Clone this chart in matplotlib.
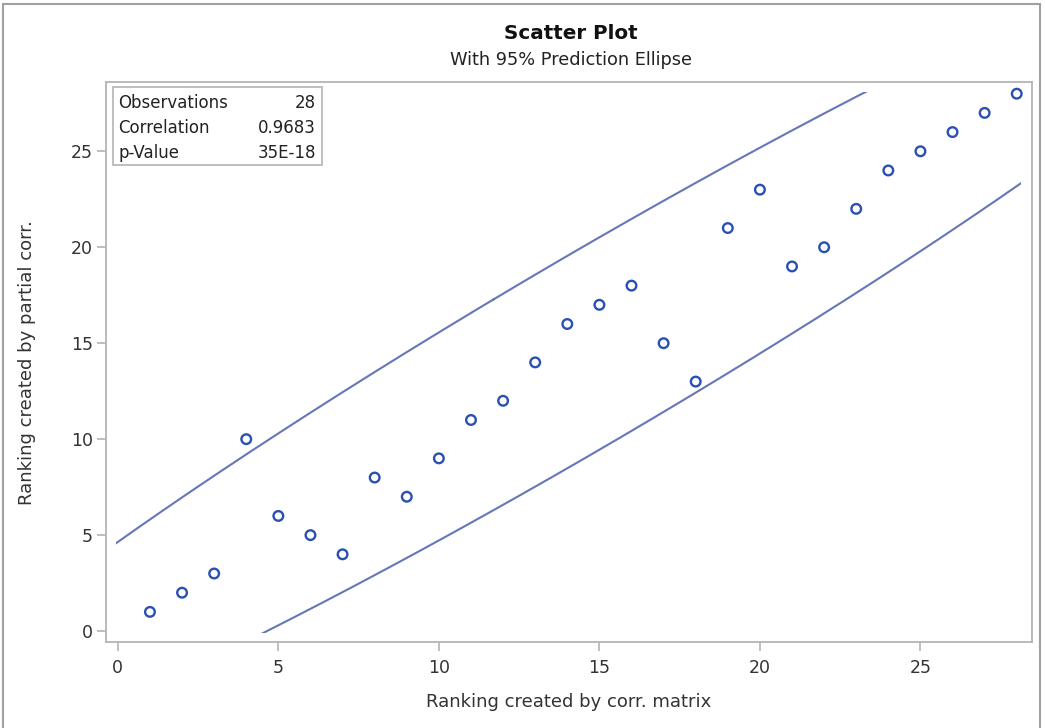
import numpy as np
import matplotlib.pyplot as plt
from matplotlib.patches import Rectangle

plt.rcParams['font.family'] = ['DejaVu Sans']

# data: ranking by correlation matrix vs ranking by partial correlation
rank_corr = [1, 2, 3, 4, 5, 6, 7, 8, 9, 10, 11, 12, 13, 14,
             15, 16, 17, 18, 19, 20, 21, 22, 23, 24, 25, 26, 27, 28]
rank_partial = [1, 2, 3, 10, 6, 5, 4, 8, 7, 9, 11, 12, 14, 16,
                17, 18, 15, 13, 21, 23, 19, 20, 22, 24, 25, 26, 27, 28]

stat_names = ['Observations', 'Correlation', 'p-Value']
stat_values = ['28', '0.9683', '35E-18']

F_95 = 3.369  # F(2, n-2) 95% quantile for n=28

x = np.array(rank_corr, dtype=float)
y = np.array(rank_partial, dtype=float)
n = len(x)

# 95% prediction ellipse (same as SAS PROC CORR)
mean = np.array([x.mean(), y.mean()])
cov = np.cov(x, y)
c2 = 2 * (n - 1) * (n + 1) / (n * (n - 2)) * F_95
vals, vecs = np.linalg.eigh(cov)
t = np.linspace(0, 2 * np.pi, 800)
circle = np.vstack([np.cos(t), np.sin(t)])
ell = vecs @ (np.sqrt(vals * c2)[:, None] * circle) + mean[:, None]

fig = plt.figure(figsize=(10.45, 7.28), dpi=100)
ax = fig.add_axes([0.1014, 0.1181, 0.886, 0.769])

grid_grey = '#B4B4B4'
text_col = '#333333'

line, = ax.plot(ell[0], ell[1], color='#6677B8', lw=1.5, zorder=2)
# SAS clips the ellipse to the data area (no axis offsets)
clip = Rectangle((-0.05, -0.1), 28.17, 28.18, transform=ax.transData)
line.set_clip_path(clip)
ax.scatter(x, y, s=48, facecolors='none', edgecolors='#2A4FB5', linewidths=1.7, zorder=3)

ax.set_xlim(-0.37, 28.47)
ax.set_ylim(-0.57, 28.6)
ax.set_xticks([0, 5, 10, 15, 20, 25])
ax.set_yticks([0, 5, 10, 15, 20, 25])
for s in ax.spines.values():
    s.set_color(grid_grey)
    s.set_linewidth(1.3)
ax.tick_params(colors=grid_grey, labelcolor=text_col, labelsize=12.5, length=6.5, width=1.2, pad=3)
ax.tick_params(axis='x', pad=6)

ax.set_xlabel('Ranking created by corr. matrix', fontsize=13, color=text_col, labelpad=11)
ax.set_ylabel('Ranking created by partial corr.', fontsize=13, color=text_col, labelpad=25)

fig.text(0.546, 0.954, 'Scatter Plot', ha='center', va='center', fontsize=14.3,
         fontweight='bold', color='#111111')
fig.text(0.546, 0.917, 'With 95% Prediction Ellipse', ha='center', va='center',
         fontsize=12.8, color='#222222')

# statistics inset box
ax.add_patch(Rectangle((0.0076, 0.852), 0.2257, 0.139, transform=ax.transAxes,
                       facecolor='white', edgecolor=grid_grey, lw=1.2, zorder=4))
for i, (nm, v) in enumerate(zip(stat_names, stat_values)):
    yy = 0.962 - i * 0.0446
    ax.text(0.0135, yy, nm, transform=ax.transAxes, ha='left', va='center',
            fontsize=12, color='#222222', zorder=5)
    ax.text(0.227, yy, v, transform=ax.transAxes, ha='right', va='center',
            fontsize=12, color='#222222', zorder=5)

# outer frame of the graph
fig.add_artist(Rectangle((0.003, -0.01), 0.992, 1.005, transform=fig.transFigure,
                         facecolor='none', edgecolor='#A0A0A0', lw=1.5))

fig.savefig('out.png', dpi=100)
